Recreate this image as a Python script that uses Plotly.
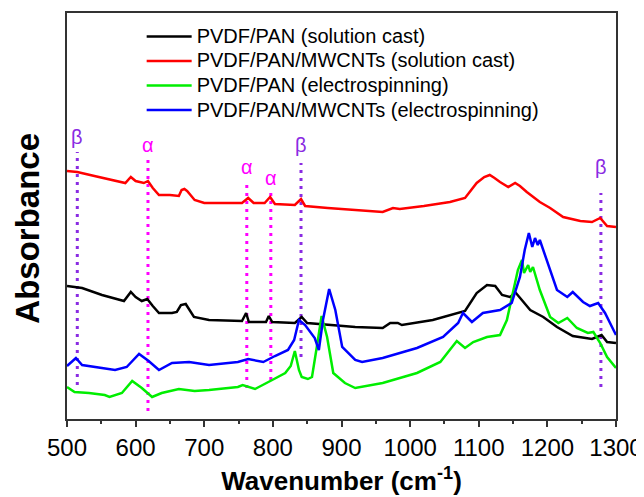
import plotly.graph_objects as go

# ---------------- data (wavenumber cm^-1, absorbance a.u.) ----------------
red_x = [500, 515, 540, 560, 585, 593, 600, 612, 618, 625, 634, 650, 663, 667, 671, 675, 686, 700, 730, 755,
         764, 772, 788, 796, 803, 832, 841, 847, 880, 920, 960, 975, 985, 1020, 1058, 1080, 1097, 1108, 1116,
         1123, 1131, 1143, 1153, 1160, 1170, 1189, 1204, 1223, 1248, 1265, 1277, 1287, 1300]
red_y = [2.48, 2.47, 2.43, 2.40, 2.36, 2.42, 2.38, 2.36, 2.38, 2.31, 2.24, 2.24, 2.23, 2.29, 2.30, 2.28, 2.19,
         2.16, 2.16, 2.16, 2.21, 2.16, 2.16, 2.22, 2.15, 2.14, 2.20, 2.13, 2.11, 2.09, 2.07, 2.11, 2.10, 2.13,
         2.17, 2.21, 2.36, 2.42, 2.44, 2.41, 2.37, 2.32, 2.36, 2.33, 2.27, 2.17, 2.11, 2.02, 1.98, 1.97, 2.01,
         1.93, 1.92]

black_x = [500, 522, 551, 583, 593, 600, 609, 617, 625, 634, 653, 660, 666, 673, 685, 707, 755, 761, 765, 790,
           794, 799, 832, 842, 850, 920, 960, 971, 982, 988, 1033, 1073, 1080, 1097, 1112, 1124, 1134, 1146,
           1153, 1175, 1194, 1214, 1237, 1265, 1279, 1287, 1300]
black_y = [1.33, 1.31, 1.24, 1.18, 1.27, 1.22, 1.18, 1.20, 1.13, 1.06, 1.06, 1.07, 1.14, 1.15, 1.02, 0.99,
           0.98, 1.06, 0.97, 0.97, 1.03, 0.97, 0.96, 1.02, 0.96, 0.92, 0.91, 0.96, 0.96, 0.94, 0.99, 1.06,
           1.08, 1.26, 1.34, 1.33, 1.24, 1.22, 1.27, 1.09, 1.02, 0.92, 0.83, 0.80, 0.84, 0.77, 0.76]

blue_x = [500, 513, 522, 551, 570, 587, 605, 619, 634, 653, 678, 707, 749, 764, 786, 803, 822, 831, 838, 847,
          861, 867, 873, 882, 891, 901, 920, 930, 960, 1010, 1048, 1070, 1077, 1090, 1106, 1131, 1148, 1160,
          1167, 1173, 1178, 1182, 1186, 1189, 1199, 1214, 1229, 1237, 1252, 1262, 1274, 1284, 1300]
blue_y = [0.53, 0.61, 0.54, 0.51, 0.49, 0.52, 0.65, 0.58, 0.49, 0.56, 0.57, 0.54, 0.57, 0.60, 0.57, 0.63,
          0.69, 0.79, 0.99, 0.94, 0.81, 0.69, 0.99, 1.30, 1.09, 0.72, 0.59, 0.57, 0.61, 0.71, 0.82, 0.96,
          1.06, 0.97, 1.06, 1.09, 1.16, 1.42, 1.69, 1.86, 1.72, 1.81, 1.74, 1.79, 1.59, 1.29, 1.22, 1.27,
          1.17, 1.13, 1.16, 1.06, 0.84]

green_x = [500, 511, 532, 555, 562, 580, 595, 609, 624, 638, 663, 686, 707, 749, 756, 774, 799, 818, 826, 832,
           838, 842, 851, 857, 864, 871, 879, 888, 905, 920, 960, 1010, 1044, 1058, 1068, 1080, 1092, 1112,
           1131, 1141, 1150, 1157, 1163, 1166, 1172, 1175, 1179, 1189, 1204, 1216, 1229, 1243, 1259, 1267,
           1277, 1287, 1300]
green_y = [0.32, 0.27, 0.26, 0.24, 0.22, 0.26, 0.38, 0.31, 0.22, 0.26, 0.30, 0.28, 0.29, 0.32, 0.34, 0.30,
           0.39, 0.46, 0.53, 0.68, 0.49, 0.42, 0.40, 0.42, 0.72, 1.03, 0.82, 0.46, 0.36, 0.31, 0.36, 0.46,
           0.57, 0.69, 0.78, 0.71, 0.77, 0.82, 0.84, 0.99, 1.29, 1.49, 1.59, 1.46, 1.54, 1.47, 1.52, 1.29,
           1.02, 0.96, 1.01, 0.91, 0.86, 0.87, 0.76, 0.62, 0.51]

series_names = ["PVDF/PAN (solution cast)", "PVDF/PAN/MWCNTs (solution cast)",
                "PVDF/PAN (electrospinning)", "PVDF/PAN/MWCNTs (electrospinning)"]

# phase marker lines: position, label, line top, line bottom, label height
marker_pos = [515, 618, 762, 797, 841, 1278]
marker_lab = ["β", "α", "α", "α", "β", "β"]
marker_top = [2.67, 2.62, 2.37, 2.31, 2.56, 2.26]
marker_bot = [0.34, 0.08, 0.31, 0.39, 0.62, 0.32]
marker_txt_y = [2.82, 2.74, 2.52, 2.41, 2.74, 2.52]

x_ticks = [500, 600, 700, 800, 900, 1000, 1100, 1200, 1300]

# ---------------- figure ----------------
FONT = "Liberation Sans, Arial, sans-serif"
colors = ["#000000", "#ff0000", "#00ee00", "#0000ff"]
xs = [black_x, red_x, green_x, blue_x]
ys = [black_y, red_y, green_y, blue_y]

fig = go.Figure()

mcol = {"α": "#ff00ff", "β": "#8a2be2"}
for p, lab, t, b in zip(marker_pos, marker_lab, marker_top, marker_bot):
    fig.add_trace(go.Scatter(x=[p, p], y=[b, t], mode="lines", showlegend=False,
                             line=dict(color=mcol[lab], width=3, dash="3px,5px"), hoverinfo="skip"))

for name, x, y, c in zip(series_names, xs, ys, colors):
    fig.add_trace(go.Scatter(x=x, y=y, mode="lines",
                             name='<span style="font-size:20px">' + name + '</span>',
                             line=dict(color=c, width=2.5)))

for p, lab, ty in zip(marker_pos, marker_lab, marker_txt_y):
    fig.add_annotation(x=p, y=ty, text=lab, showarrow=False,
                       font=dict(family=FONT, size=20, color=mcol[lab]))

# y-axis title placed as rotated text left of the frame
fig.add_annotation(xref="paper", yref="paper", x=-0.072, y=0.47, text="<b>Absorbance</b>",
                   textangle=-90, showarrow=False, xanchor="center", yanchor="middle",
                   font=dict(family=FONT, size=33, color="black"))

# page body adds an 8px margin, so the figure is 8px smaller than the window
fig.update_layout(
    width=636, height=489,
    margin=dict(l=59, r=28, t=5, b=78),
    paper_bgcolor="white", plot_bgcolor="white",
    font=dict(family=FONT, color="black"),
    legend=dict(x=0.136, y=0.985, xanchor="left", yanchor="top", bgcolor="rgba(0,0,0,0)",
                font=dict(family=FONT, size=16.6, color="black"), itemwidth=45,
                tracegroupgap=0),
    showlegend=True,
)
fig.update_xaxes(range=[500, 1300], tickvals=x_ticks, ticks="outside", ticklen=6, tickwidth=1.5,
                 tickcolor="#333", showline=True, linecolor="#333", linewidth=1.5, mirror=True,
                 showgrid=False, zeroline=False, tickfont=dict(family=FONT, size=24),
                 ticklabelstandoff=0, automargin=False,
                 minor=dict(dtick=50, ticks="outside", ticklen=3, tickwidth=1.5, tickcolor="#333"),
                 title=dict(text="<b>Wavenumber (cm<sup>-1</sup>)</b>", font=dict(family=FONT, size=26),
                            standoff=12))
fig.update_yaxes(range=[0, 4.06], showticklabels=False, ticks="", showline=True, linecolor="#333",
                 linewidth=1.5, mirror=True, showgrid=False, zeroline=False, automargin=False)

fig.write_html("out.html")
